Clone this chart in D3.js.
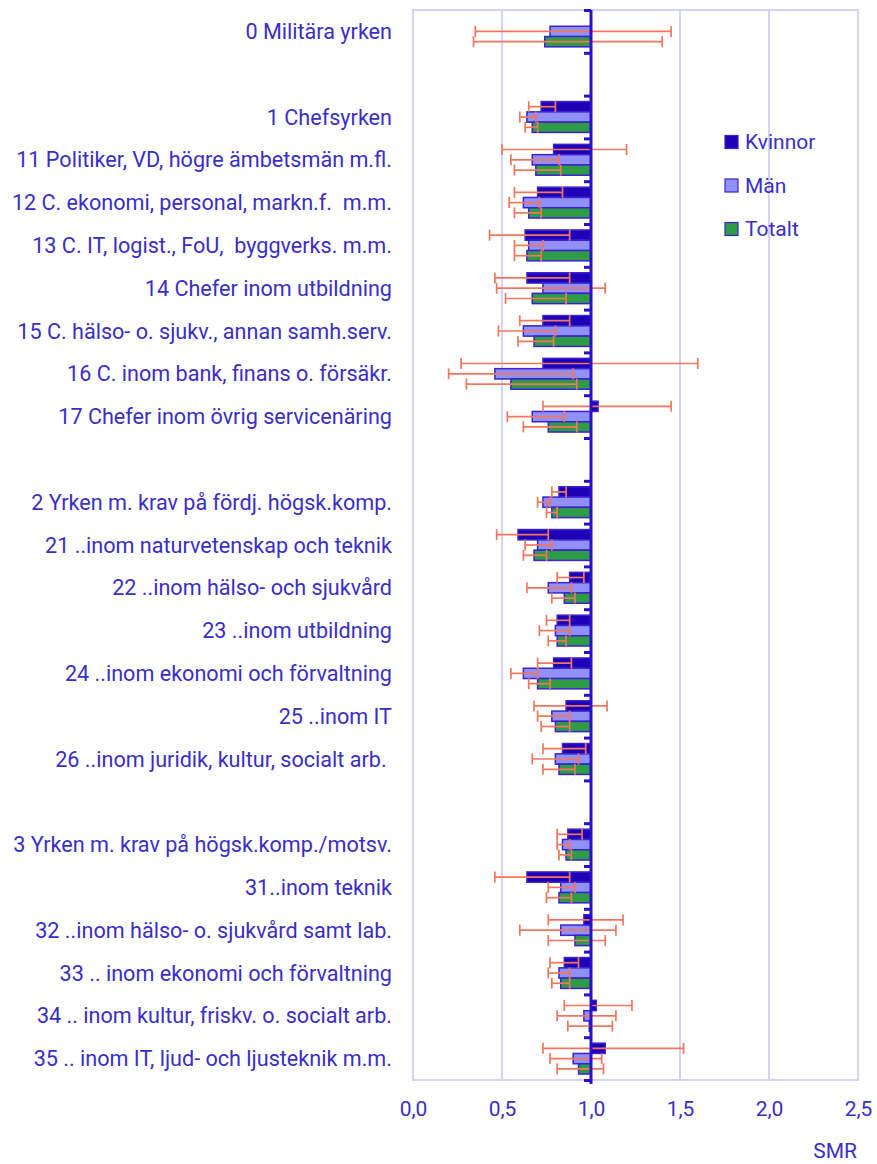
<!DOCTYPE html>
<html>
<head>
<meta charset="utf-8">
<script src="https://cdn.jsdelivr.net/npm/d3@7"></script>
<style>
  body { margin: 0; background: #fff; }
  text { font-family: Roboto, "Open Sans", sans-serif; }
</style>
</head>
<body>
<div id="chart"></div>
<script>
// yrkesgrupper (tomma strängar = mellanrum mellan grupperna)
const categories = [
  "0 Militära yrken",
  "",
  "1 Chefsyrken",
  "11 Politiker, VD, högre ämbetsmän m.fl.",
  "12 C. ekonomi, personal, markn.f.  m.m.",
  "13 C. IT, logist., FoU,  byggverks. m.m.",
  "14 Chefer inom utbildning",
  "15 C. hälso- o. sjukv., annan samh.serv.",
  "16 C. inom bank, finans o. försäkr.",
  "17 Chefer inom övrig servicenäring",
  "",
  "2 Yrken m. krav på fördj. högsk.komp.",
  "21 ..inom naturvetenskap och teknik",
  "22 ..inom hälso- och sjukvård",
  "23 ..inom utbildning",
  "24 ..inom ekonomi och förvaltning",
  "25 ..inom IT",
  "26 ..inom juridik, kultur, socialt arb. ",
  "",
  "3 Yrken m. krav på högsk.komp./motsv.",
  "31..inom teknik",
  "32 ..inom hälso- o. sjukvård samt lab.",
  "33 .. inom ekonomi och förvaltning",
  "34 .. inom kultur, friskv. o. socialt arb.",
  "35 .. inom IT, ljud- och ljusteknik m.m."
];

const seriesNames = ["Kvinnor", "Män", "Totalt"];

// SMR
const kvinnor = [null, null, 0.72, 0.79, 0.70, 0.63, 0.64, 0.73, 0.73, 1.04, null,
  0.82, 0.59, 0.88, 0.81, 0.79, 0.86, 0.84, null,
  0.87, 0.64, 0.96, 0.85, 1.03, 1.08];
const man = [0.77, null, 0.64, 0.67, 0.62, 0.65, 0.73, 0.62, 0.46, 0.67, null,
  0.73, 0.70, 0.76, 0.80, 0.62, 0.78, 0.80, null,
  0.84, 0.83, 0.83, 0.82, 0.96, 0.90];
const totalt = [0.74, null, 0.67, 0.69, 0.65, 0.64, 0.67, 0.68, 0.55, 0.76, null,
  0.78, 0.68, 0.85, 0.81, 0.70, 0.80, 0.82, null,
  0.86, 0.82, 0.91, 0.83, 0.99, 0.93];

// konfidensintervall, nedre / övre
const kvinnorLo = [null, null, 0.65, 0.50, 0.57, 0.43, 0.46, 0.60, 0.27, 0.73, null,
  0.78, 0.47, 0.81, 0.75, 0.70, 0.68, 0.73, null,
  0.81, 0.46, 0.76, 0.77, 0.85, 0.73];
const kvinnorHi = [null, null, 0.80, 1.20, 0.84, 0.88, 0.88, 0.88, 1.60, 1.45, null,
  0.86, 0.76, 0.96, 0.88, 0.89, 1.09, 0.97, null,
  0.95, 0.88, 1.18, 0.93, 1.23, 1.52];
const manLo = [0.35, null, 0.60, 0.55, 0.54, 0.57, 0.47, 0.48, 0.20, 0.53, null,
  0.70, 0.63, 0.64, 0.71, 0.55, 0.70, 0.67, null,
  0.81, 0.76, 0.60, 0.76, 0.81, 0.77];
const manHi = [1.45, null, 0.69, 0.82, 0.71, 0.73, 1.08, 0.80, 0.90, 0.85, null,
  0.77, 0.78, 0.89, 0.88, 0.70, 0.88, 0.93, null,
  0.88, 0.91, 1.14, 0.88, 1.14, 1.06];
const totaltLo = [0.34, null, 0.63, 0.57, 0.57, 0.57, 0.52, 0.59, 0.30, 0.62, null,
  0.75, 0.62, 0.78, 0.76, 0.65, 0.72, 0.73, null,
  0.82, 0.75, 0.76, 0.78, 0.87, 0.81];
const totaltHi = [1.40, null, 0.70, 0.83, 0.72, 0.72, 0.86, 0.79, 0.92, 0.92, null,
  0.81, 0.75, 0.91, 0.86, 0.77, 0.88, 0.91, null,
  0.89, 0.89, 1.08, 0.88, 1.12, 1.07];

const xTicks = [0, 0.5, 1, 1.5, 2, 2.5];

const values = [kvinnor, man, totalt];
const lows = [kvinnorLo, manLo, totaltLo];
const highs = [kvinnorHi, manHi, totaltHi];

const w = 877;
const h = 1164;
const margin = { top: 10, right: 19, bottom: 84, left: 413 };

const textColor = "#3a2ec8";
const gridColor = "#d3d3f3";
const axisColor = "#2a10c8";
const errColor = "#f3765c";
const colors = ["#1e00b6", "#9090f6", "#2f9b46"];
const fontSize = 21;

const svg = d3.select("#chart")
  .append("svg")
  .attr("width", w)
  .attr("height", h);

const x = d3.scaleLinear()
  .domain([0, 2.5])
  .range([margin.left, w - margin.right]);

const y = d3.scaleBand()
  .domain(d3.range(categories.length))
  .range([margin.top, h - margin.bottom])
  .padding(0);

const ySub = d3.scaleBand()
  .domain(seriesNames)
  .range([0, y.bandwidth()])
  .paddingInner(0)
  .paddingOuter(0.58);

// ram och stödlinjer
svg.append("rect")
  .attr("x", x(0))
  .attr("y", margin.top)
  .attr("width", x(2.5) - x(0))
  .attr("height", h - margin.bottom - margin.top)
  .attr("fill", "none")
  .attr("stroke", gridColor)
  .attr("stroke-width", 2);

svg.selectAll("line.grid")
  .data([0.5, 1.5, 2])
  .enter()
  .append("line")
  .attr("class", "grid")
  .attr("x1", (d) => x(d))
  .attr("x2", (d) => x(d))
  .attr("y1", margin.top)
  .attr("y2", h - margin.bottom)
  .attr("stroke", gridColor)
  .attr("stroke-width", 2);

// staplar (utgår från SMR = 1)
const rows = [];
categories.forEach((c, i) => {
  seriesNames.forEach((s, j) => {
    if (values[j][i] != null) {
      rows.push({ i: i, s: s, j: j, v: values[j][i], lo: lows[j][i], hi: highs[j][i] });
    }
  });
});

svg.selectAll("rect.bar")
  .data(rows)
  .enter()
  .append("rect")
  .attr("class", "bar")
  .attr("x", (d) => Math.min(x(1), x(d.v)))
  .attr("y", (d) => y(d.i) + ySub(d.s))
  .attr("width", (d) => Math.abs(x(d.v) - x(1)))
  .attr("height", ySub.bandwidth())
  .attr("fill", (d) => colors[d.j])
  .attr("stroke", "#3a22d2")
  .attr("stroke-width", 1.5);

// felstaplar
const cap = 5.5;
const err = svg.selectAll("g.err")
  .data(rows)
  .enter()
  .append("g")
  .attr("class", "err")
  .attr("stroke", errColor)
  .attr("stroke-width", 1.7);

err.append("line")
  .attr("x1", (d) => x(d.lo))
  .attr("x2", (d) => x(d.hi))
  .attr("y1", (d) => y(d.i) + ySub(d.s) + ySub.bandwidth() / 2)
  .attr("y2", (d) => y(d.i) + ySub(d.s) + ySub.bandwidth() / 2);

err.selectAll("line.cap")
  .data((d) => [d.lo, d.hi].map((v) => ({ v: v, cy: y(d.i) + ySub(d.s) + ySub.bandwidth() / 2 })))
  .enter()
  .append("line")
  .attr("class", "cap")
  .attr("x1", (d) => x(d.v))
  .attr("x2", (d) => x(d.v))
  .attr("y1", (d) => d.cy - cap)
  .attr("y2", (d) => d.cy + cap);

// axel vid SMR = 1 med små streck mellan grupperna
const yAxis = d3.axisLeft(
    d3.scaleLinear().domain([0, categories.length]).range([margin.top, h - margin.bottom])
  )
  .tickValues(d3.range(categories.length + 1))
  .tickSize(7)
  .tickFormat("");

const ya = svg.append("g")
  .attr("transform", `translate(${x(1)},0)`)
  .call(yAxis);
ya.select(".domain")
  .attr("stroke", axisColor)
  .attr("stroke-width", 3)
  .attr("d", `M0,${margin.top}V${h - margin.bottom + 4}`);
ya.selectAll(".tick line")
  .attr("stroke", axisColor)
  .attr("stroke-width", 3);

// kategorietiketter
svg.selectAll("text.cat")
  .data(categories)
  .enter()
  .append("text")
  .attr("class", "cat")
  .attr("x", 392)
  .attr("y", (d, i) => y(i) + y.bandwidth() / 2)
  .attr("dy", "0.35em")
  .attr("text-anchor", "end")
  .style("white-space", "pre")
  .attr("font-size", 21.6)
  .attr("fill", textColor)
  .text((d) => d);

// x-axel
const sv = d3.formatLocale({ decimal: ",", thousands: " ", grouping: [3], currency: ["", " kr"] });
const xAxis = d3.axisBottom(x)
  .tickValues(xTicks)
  .tickSize(0)
  .tickPadding(21)
  .tickFormat(sv.format(".1f"));

const xa = svg.append("g")
  .attr("transform", `translate(0,${h - margin.bottom})`)
  .call(xAxis);
xa.select(".domain").remove();
xa.selectAll("text")
  .attr("font-size", fontSize)
  .attr("font-family", "Roboto, sans-serif")
  .attr("fill", textColor);

svg.append("text")
  .attr("x", 857)
  .attr("y", 1158)
  .attr("text-anchor", "end")
  .attr("font-size", fontSize)
  .attr("fill", textColor)
  .text("SMR");

// förklaring
const legend = svg.selectAll("g.legend")
  .data(seriesNames)
  .enter()
  .append("g")
  .attr("class", "legend")
  .attr("transform", (d, i) => `translate(725,${142 + i * 43.5})`);

legend.append("rect")
  .attr("x", 0)
  .attr("y", -6.5)
  .attr("width", 13)
  .attr("height", 13)
  .attr("fill", (d, i) => colors[i])
  .attr("stroke", "#3a22d2")
  .attr("stroke-width", 1.2);

legend.append("text")
  .attr("x", 20)
  .attr("y", 0)
  .attr("dy", "0.35em")
  .attr("font-size", fontSize)
  .attr("fill", textColor)
  .text((d) => d);
</script>
</body>
</html>
